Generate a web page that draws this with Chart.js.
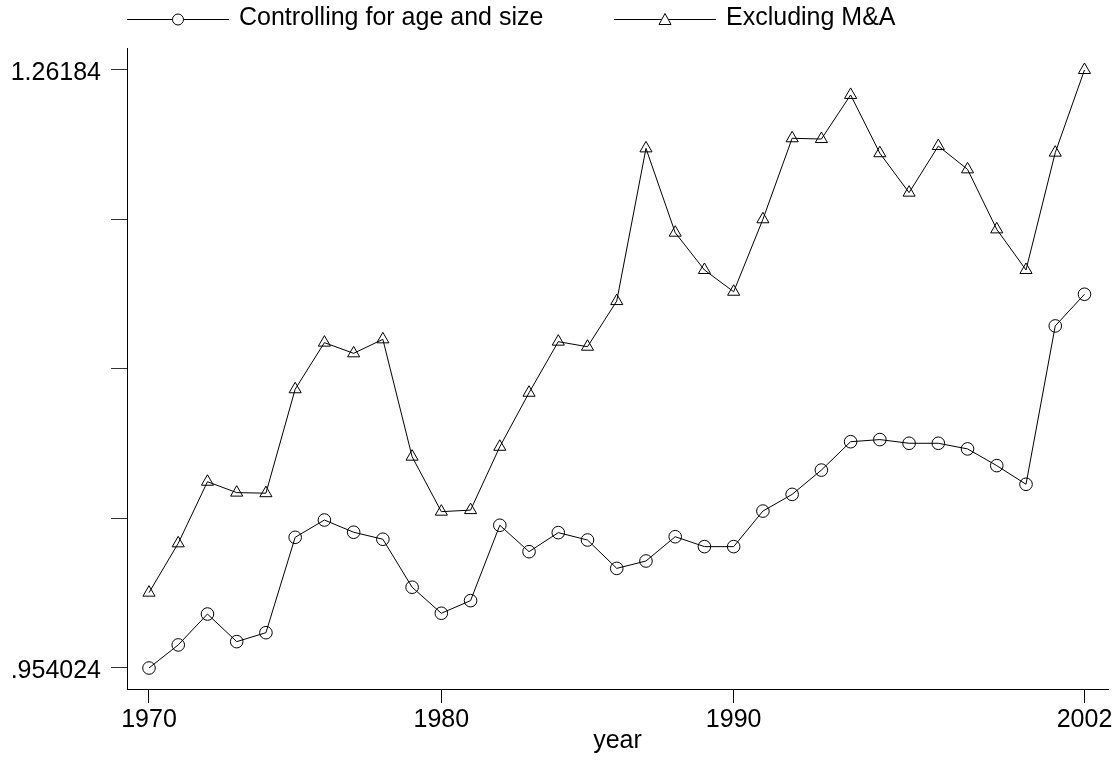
<!DOCTYPE html>
<html>
<head>
<meta charset="utf-8">
<script src="https://cdn.jsdelivr.net/npm/chart.js@4"></script>
<style>
body{margin:0;background:#fff}
#wrap{width:1116px;height:760px}
</style>
</head>
<body>
<div id="wrap"><canvas id="chart"></canvas></div>
<script>
var years = [1970,1971,1972,1973,1974,1975,1976,1977,1978,1979,1980,1981,1982,1983,1984,1985,1986,
	1987,1988,1989,1990,1991,1992,1993,1994,1995,1996,1997,1998,1999,2000,2001,2002];
var controlling = [0.954024,0.9659,0.9818,0.9676,0.9722,1.0213,1.0302,1.0239,1.0203,0.9956,0.9822,0.9887,1.0275,
	1.0139,1.0237,1.0199,1.0053,1.0091,1.0216,1.0165,1.0165,1.0348,1.0434,1.0559,1.0705,1.0716,1.0697,1.0697,
	1.0668,1.0582,1.0486,1.1301,1.1464];
var excludingMA = [0.9928,1.0182,1.0499,1.0443,1.0440,1.0975,1.1215,1.1160,1.1232,1.0628,1.0345,1.0353,1.0679,
	1.0957,1.1220,1.1194,1.1429,1.2215,1.1781,1.1589,1.1477,1.1850,1.2267,1.2263,1.2490,1.2190,1.1987,1.2227,
	1.2107,1.1798,1.1589,1.2193,1.26184];
var seriesNames = ["Controlling for age and size","Excluding M&A"];
var xTicks = [1970,1980,1990,2002];
var yTicks = [0.954024,1.030978,1.107932,1.184886,1.26184];
var yTickLabels = [".954024","","","","1.26184"];

var FONT = '"Liberation Sans", Arial, sans-serif';
Chart.defaults.font.family = FONT;
Chart.defaults.font.size = 25;
Chart.defaults.color = "#000";

function ToPoints(values){
	return years.map(function(y,i){ return {x:y, y:values[i]}; });
}

// legend drawn like Stata: line with the marker in its middle, then the text
var LegendPlugin = {
	id:"stataLegend",
	afterDraw:function(chart){
		var ctx = chart.ctx;
		var starts = [127,614];
		var y = 19.5;
		ctx.save();
		chart.data.datasets.forEach(function(ds,i){
			var x0 = starts[i], cx = x0+51;
			ctx.strokeStyle = "#000"; ctx.lineWidth = 1;
			ctx.beginPath(); ctx.moveTo(x0,y); ctx.lineTo(x0+102,y); ctx.stroke();
			ctx.fillStyle = "#fff";
			ctx.beginPath();
			if (ds.pointStyle === "circle"){
				ctx.arc(cx,y,5.5,0,Math.PI*2);
			}else{
				ctx.moveTo(cx,y-6); ctx.lineTo(cx+6,y+5); ctx.lineTo(cx-6,y+5); ctx.closePath();
			}
			ctx.fill(); ctx.stroke();
			ctx.fillStyle = "#000";
			ctx.font = "25px " + FONT;
			ctx.textBaseline = "middle";
			ctx.textAlign = "left";
			ctx.fillText(ds.label,x0+112,18);
		});
		ctx.restore();
	}
};

new Chart(document.getElementById("chart"), {
	type:"line",
	data:{
		datasets:[
			{
				label:seriesNames[0],
				data:ToPoints(controlling),
				borderColor:"#000",
				borderWidth:1,
				lineTension:0,
				pointStyle:"circle",
				pointRadius:6.3,
				pointBorderWidth:1,
				pointBorderColor:"#000",
				pointBackgroundColor:"rgba(0,0,0,0)",
				fill:false
			},
			{
				label:seriesNames[1],
				data:ToPoints(excludingMA),
				borderColor:"#000",
				borderWidth:1,
				lineTension:0,
				pointStyle:"triangle",
				pointRadius:7,
				pointBorderWidth:1,
				pointBorderColor:"#000",
				pointBackgroundColor:"rgba(0,0,0,0)",
				fill:false
			}
		]
	},
	options:{
		responsive:true,
		maintainAspectRatio:false,
		animation:false,
		layout:{padding:{top:48,right:8,left:0,bottom:0}},
		plugins:{legend:{display:false},tooltip:{enabled:false}},
		scales:{
			x:{
				type:"linear",
				min:1969.2475,
				max:2002.8045,
				afterBuildTicks:function(scale){ scale.ticks = xTicks.map(function(v){ return {value:v}; }); },
				afterFit:function(scale){ scale.height = 71; },
				ticks:{
					padding:2,
					maxRotation:0,
					autoSkip:false,
					callback:function(v){ return String(v); }
				},
				grid:{drawOnChartArea:false,drawTicks:true,tickLength:14,tickColor:"#000",tickWidth:1},
				border:{display:true,color:"#000",width:1},
				title:{display:true,text:"year",padding:{top:0,bottom:4}}
			},
			y:{
				type:"linear",
				min:0.943214,
				max:1.273164,
				afterBuildTicks:function(scale){ scale.ticks = yTicks.map(function(v){ return {value:v}; }); },
				afterFit:function(scale){ scale.width = 127; },
				ticks:{
					padding:10,
					labelOffset:3,
					autoSkip:false,
					callback:function(v,i){ return yTickLabels[i]; }
				},
				grid:{drawOnChartArea:false,drawTicks:true,tickLength:16,tickColor:"#333",tickWidth:1},
				border:{display:true,color:"#000",width:1}
			}
		}
	},
	plugins:[LegendPlugin]
});
</script>
</body>
</html>
